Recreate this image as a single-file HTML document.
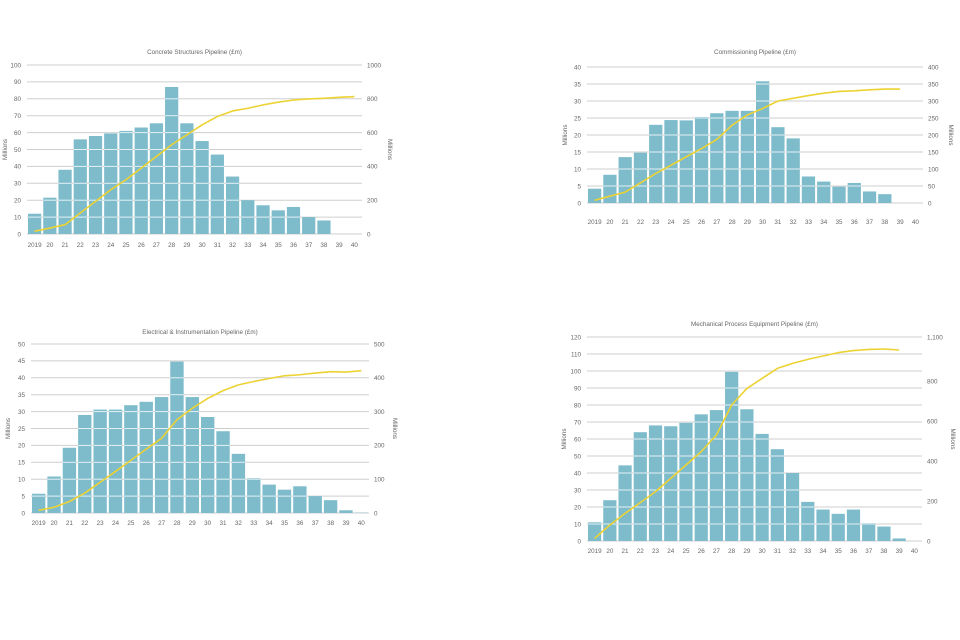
<!DOCTYPE html>
<html><head><meta charset="utf-8"><style>
html,body{margin:0;padding:0;background:#fff;}
svg{display:block;font-family:"Liberation Sans",sans-serif;}
text{fill:#666;font-size:6.3px;}
</style></head><body>
<svg id="s" width="960" height="640" viewBox="0 0 960 640"></svg>
<script>
const categories=["2019","20","21","22","23","24","25","26","27","28","29","30","31","32","33","34","35","36","37","38","39","40"];
const concreteBars=[12,21.5,38,56,58,59.5,61,63,65.5,87,65.5,55,47,34,20,17,14,16,10,8,0,0];
const concreteCum=[16,35,55,124,193,262,321,390,459,528,587,646,695,728,744,764,780,793,799,803,809,813];
const commBars=[4.2,8.3,13.5,14.8,23,24.4,24.3,25.3,26.4,27.1,27.1,35.8,22.3,19,7.8,6.3,4.8,5.9,3.4,2.6,0,0];
const commCum=[8,20,32,59,87,111,136,160,187,229,259,278,300,308,316,323,328,330,333,335,335];
const elecBars=[5.7,10.8,19.3,29,30.6,30.6,31.9,32.9,34.3,44.8,34.3,28.4,24.2,17.5,10.3,8.4,6.9,7.9,5,3.8,0.8,0.1];
const elecCum=[8,17,34,59,91,123,156,189,221,276,310,339,362,379,389,398,406,409,414,418,417,421];
const mechBars=[11,24,44.5,64,68,67.5,69.5,74.5,77,99.5,77.5,63,54,40,23,18.5,16,18.5,10.5,8.5,1.5,0];
const mechCum=[13,80,138,192,247,313,380,447,530,680,763,813,863,888,908,925,942,952,958,960,955];
const concreteLeftTicks=[0,10,20,30,40,50,60,70,80,90,100];
const concreteRightTicks=[0,200,400,600,800,1000];
const commLeftTicks=[0,5,10,15,20,25,30,35,40];
const commRightTicks=[0,50,100,150,200,250,300,350,400];
const elecLeftTicks=[0,5,10,15,20,25,30,35,40,45,50];
const elecRightTicks=[0,100,200,300,400,500];
const mechLeftTicks=[0,10,20,30,40,50,60,70,80,90,100,110,120];
const mechRightTicks=[0,200,400,600,800];

const NS="http://www.w3.org/2000/svg";
const svg=document.getElementById('s');
function mk(tag,attrs,parent){const e=document.createElementNS(NS,tag);for(const k in attrs)e.setAttribute(k,attrs[k]);(parent||svg).appendChild(e);return e;}

function chart(cfg){
  const g=mk('g',{});
  
  
  const {x0,x1,y0,y1,lmax,rmax}=cfg;
  const band=(x1-x0)/categories.length;
  const xs=i=>x0+band*(i+0.5);
  const yl=v=>y0-(v/lmax)*(y0-y1);
  const yr=v=>y0-(v/rmax)*(y0-y1);
  const t=mk('text',{x:(x0+x1)/2,y:cfg.titleY,'text-anchor':'middle'},g);t.textContent=cfg.title;
  
  
  cfg.lt.forEach(v=>{
    const l=mk('line',{x1:x0,x2:x1,y1:yl(v),y2:yl(v),stroke:'#cfcfcf','stroke-width':1},g);
    
    
    const tx=mk('text',{x:x0-6,y:yl(v)+2.3,'text-anchor':'end'},g);tx.textContent=v;
    
    
  });
  cfg.rt.forEach(v=>{
    const tx=mk('text',{x:x1+5,y:yr(v)+2.3},g);tx.textContent=String(v);
    
    
  });
  if(cfg.rtop){const tx=mk('text',{x:x1+5,y:y1+2.3},g);tx.textContent=cfg.rtop;
    
    }
  const bw=band-2;
  cfg.bars.forEach((v,i)=>{
    if(v<=0)return;
    const r=mk('rect',{x:xs(i)-bw/2,y:yl(v),width:bw,height:y0-yl(v),fill:'#7ebccc'},g);
    
    
  });
  cfg.lt.forEach(v=>{
    if(v===0)return;
    cfg.bars.forEach((b,i)=>{ if(b>v){
      const l=mk('line',{x1:xs(i)-bw/2,x2:xs(i)+bw/2,y1:yl(v),y2:yl(v),stroke:'#e4f1f4','stroke-width':1},g);
      
      
    }});
  });
  const pts=cfg.cum.map((v,i)=>xs(i)+','+yr(v)).join(' ');
  const pl=mk('polyline',{points:pts,fill:'none',stroke:'#ecd233','stroke-width':1.6,'stroke-linejoin':'round'},g);
  
  
  categories.forEach((c,i)=>{
    const tx=mk('text',{x:xs(i),y:cfg.xlY,'text-anchor':'middle','font-size':'5.8px'},g);tx.textContent=c;
    
    
  });
  const cy=(y0+y1)/2;
  const a=mk('text',{x:cfg.lyx,y:cy,'text-anchor':'middle',transform:`rotate(-90 ${cfg.lyx} ${cy})`},g);a.textContent='Millions';
  
  
  const b=mk('text',{x:cfg.ryx,y:cy,'text-anchor':'middle',transform:`rotate(90 ${cfg.ryx} ${cy})`},g);b.textContent='Millions';
  
  
}
chart({name:'concrete-chart',title:'Concrete Structures Pipeline (£m)',titleY:54,x0:27,x1:362,y0:234,y1:65,lmax:100,rmax:1000,lt:concreteLeftTicks,rt:concreteRightTicks,bars:concreteBars,cum:concreteCum,xlY:247,lyx:7,ryx:388});
chart({name:'commissioning-chart',title:'Commissioning Pipeline (£m)',titleY:54,x0:587,x1:923,y0:203,y1:67,lmax:40,rmax:400,lt:commLeftTicks,rt:commRightTicks,bars:commBars,cum:commCum,xlY:224,lyx:567,ryx:949});
chart({name:'electrical-chart',title:'Electrical & Instrumentation Pipeline (£m)',titleY:334,x0:31,x1:369,y0:513,y1:344,lmax:50,rmax:500,lt:elecLeftTicks,rt:elecRightTicks,bars:elecBars,cum:elecCum,xlY:525,lyx:10,ryx:393});
chart({name:'mechanical-chart',title:'Mechanical Process Equipment Pipeline (£m)',titleY:326,x0:587,x1:922,y0:541,y1:337,lmax:120,rmax:1020,lt:mechLeftTicks,rt:mechRightTicks,rtop:'1,100',bars:mechBars,cum:mechCum,xlY:553,lyx:566,ryx:951});
</script>
</body></html>
